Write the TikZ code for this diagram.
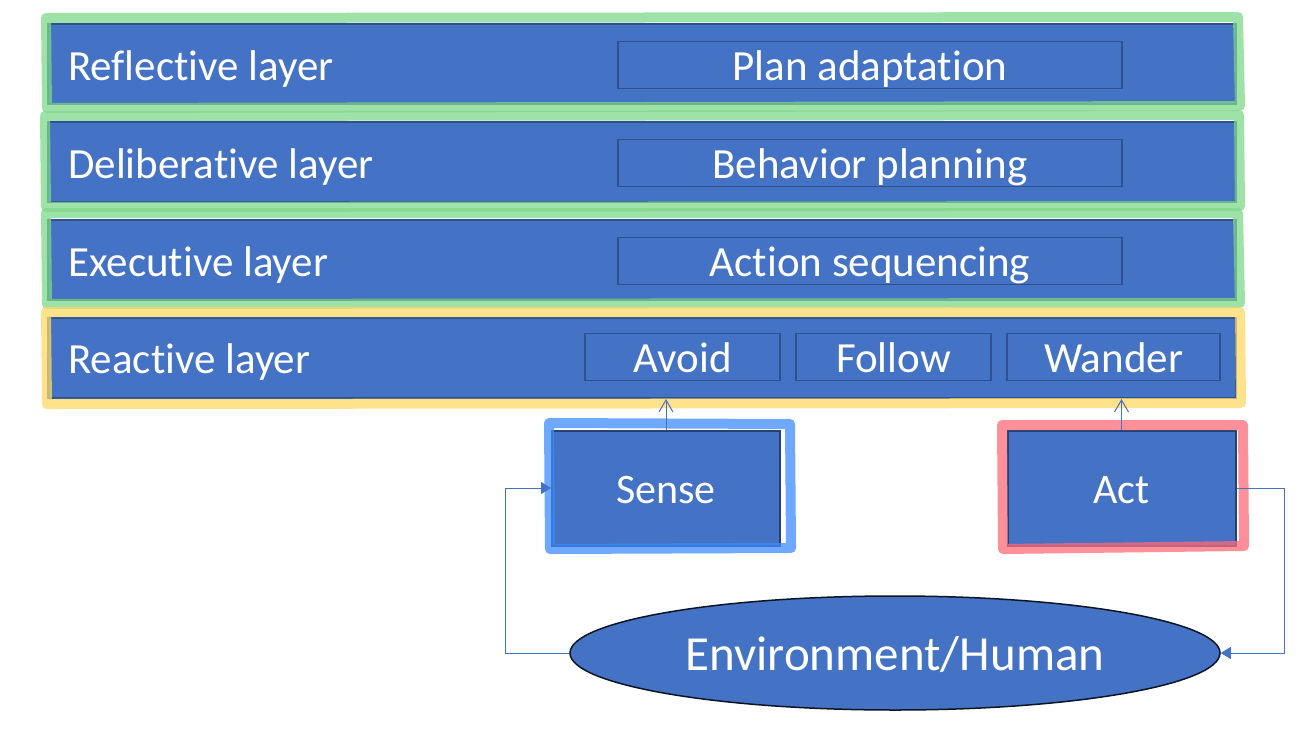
\documentclass[tikz,border=0pt]{standalone}
\usepackage{fontspec}
\setmainfont[Ligatures={NoCommon,NoRequired,NoContextual,NoRare}]{Carlito}
\usetikzlibrary{shapes.geometric,arrows.meta}
\newcommand{\zk}{\kern0pt{}}
\definecolor{bfill}{HTML}{4472C4}
\definecolor{bline}{HTML}{2F528F}
\definecolor{hgreen}{HTML}{7FD88A}
\definecolor{hyellow}{HTML}{FFD966}
\definecolor{hblue}{HTML}{3D8BFF}
\definecolor{hred}{HTML}{FF6B78}
\tikzset{
  layer/.style={draw=bline, line width=2pt, fill=bfill, minimum width=1188pt, minimum height=80pt, inner sep=0pt},
  layertext/.style={text=white, font=\fontsize{43}{50}\selectfont, anchor=west, inner sep=0pt},
  subbox/.style={draw=bline, line width=1.5pt, fill=bfill, text=white, font=\fontsize{43}{50}\selectfont, minimum height=47pt, inner sep=0pt, text height=34pt, text depth=4pt},
  actbox/.style={draw=bline!80!black, line width=2pt, fill=bfill, text=white, font=\fontsize{42}{50}\selectfont, minimum width=228pt, minimum height=115pt, inner sep=0pt, text height=34pt, text depth=4pt},
  hl/.style={line width=10pt, opacity=0.75, line join=round, line cap=round},
  conn/.style={draw=bfill, line width=1pt},
  tip/.style={-{Triangle[length=10pt,width=12pt]}},
  otip/.style={-{Straight Barb[length=12pt,width=14pt]}},
}
\begin{document}
\begin{tikzpicture}[x=1pt,y=-1pt]
\useasboundingbox (0,0) rectangle (1307,750);
% layers
\node[layer] (refl) at (642,64) {};
\node[layer] (deli) at (642,162) {};
\node[layer] (exec) at (642,260) {};
\node[layer] (reac) at (642,358) {};
\node[layertext] (treflect) at (68,69) {Reflect\zk ive layer};
\node[layertext] (tdeli) at (68,167) {Deliberat\zk ive layer};
\node[layertext] (texec) at (68,265) {Execut\zk ive layer};
\node[layertext] (treac) at (68,362) {React\zk ive layer};
% sub boxes
\node[subbox, minimum width=504pt] (plan) at (870,65) {Plan adaptat\zk ion};
\node[subbox, minimum width=504pt] (behav) at (870,163) {Behavior planning};
\node[subbox, minimum width=504pt] (actseq) at (870,261) {Act\zk ion sequencing};
\node[subbox, minimum width=195pt] (avoid) at (682.5,357) {Avoid};
\node[subbox, minimum width=195pt] (follow) at (893.5,357) {Follow};
\node[subbox, minimum width=213pt] (wander) at (1113.5,357) {Wander};
% sense / act
\node[actbox] (sense) at (666,488) {Sense};
\node[actbox] (act) at (1121.5,488) {Act};
% environment
\node[ellipse, draw=black!75!bline, line width=1.5pt, fill=bfill, text=white, font=\fontsize{49}{56}\selectfont, minimum width=650pt, minimum height=114pt, inner sep=0pt, text height=40pt, text depth=6pt] (env) at (895,653) {Environment/Human};
% highlights
\draw[hl, hgreen] (46,18) -- (1238,17) -- (1240,106) -- (47,108) -- cycle;
\draw[hl, hgreen] (45,116) -- (1239,115) -- (1240,206) -- (46,207) -- cycle;
\draw[hl, hgreen] (46,213) -- (1238,213) -- (1240,303) -- (47,304) -- cycle;
\draw[hl, hyellow] (46,312) -- (1240,312) -- (1241,403) -- (47,404) -- cycle;
\draw[hl, hblue] (549,423) -- (790,424) -- (791,548) -- (550,549) -- cycle;
\draw[hl, hred] (1002,425) -- (1243,425) -- (1244,546) -- (1003,549) -- cycle;
% connectors
\coordinate (sl) at (505,488);
\coordinate (el) at (505,653);
\coordinate (ar) at (1284,488);
\coordinate (er) at (1284,653);
\draw[conn, otip] (sense.north) -- (sense.north |- reac.south);
\draw[conn, otip] (act.north) -- (act.north |- reac.south);
\draw[conn, tip] (env.west) -- (el) -- (sl) -- (sense.west);
\draw[conn, tip] (act.east) -- (ar) -- (er) -- (env.east);
\end{tikzpicture}
\end{document}
